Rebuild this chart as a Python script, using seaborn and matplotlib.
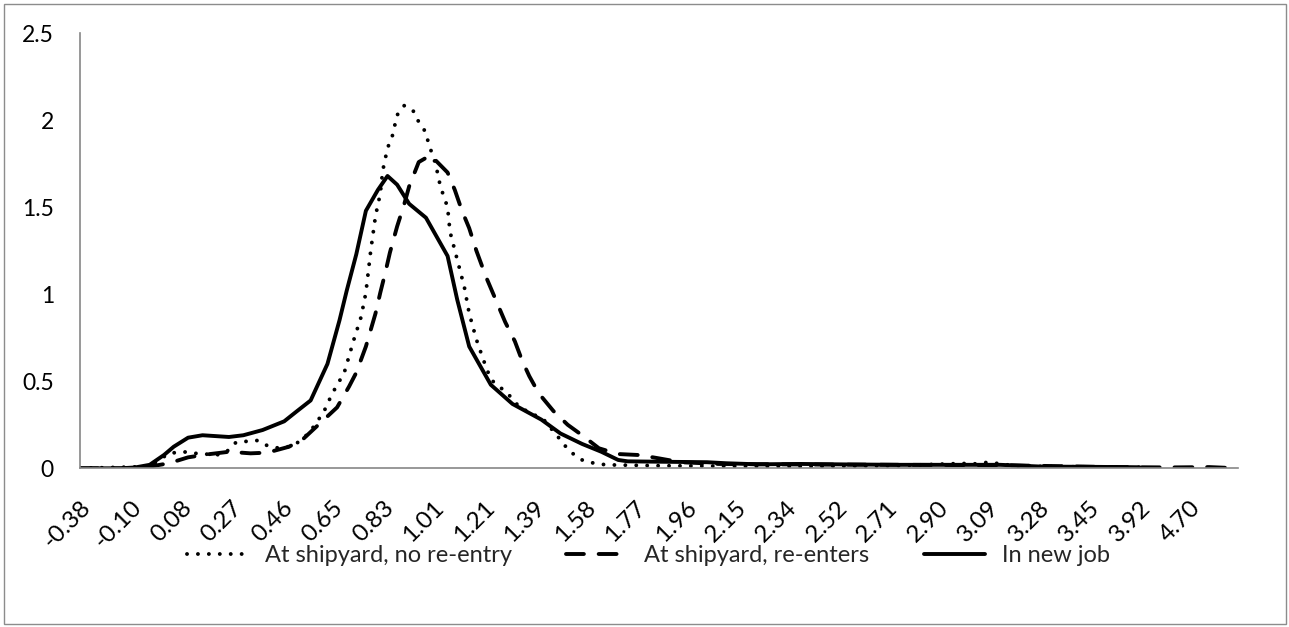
import matplotlib
matplotlib.use("Agg")
import matplotlib.pyplot as plt
import pandas as pd
import seaborn as sns
from matplotlib.patches import Rectangle

# ---------------- data (category axis: index of each category) ----------------
n_categories = 483
label_step = 21
tick_labels = ["-0.38", "-0.10", "0.08", "0.27", "0.46", "0.65", "0.83", "1.01",
               "1.21", "1.39", "1.58", "1.77", "1.96", "2.15", "2.34", "2.52",
               "2.71", "2.90", "3.09", "3.28", "3.45", "3.92", "4.70"]

series_names = ["At shipyard, no re-entry", "At shipyard, re-enters", "In new job"]

noentry_cat = [0, 29, 37, 43, 48, 57, 61, 65, 74, 78, 83, 89, 96, 98, 101, 105, 110,
               114, 117, 119, 121, 123, 125, 126, 128, 130, 132, 135, 139, 141, 144,
               145, 148, 150, 153, 154, 157, 160, 162, 165, 168, 171, 178, 183, 193,
               199, 202, 205, 209, 214, 219, 240, 270, 300, 340, 367, 372, 377, 382,
               390, 420, 441]
noentry_val = [0.0, 0.01, 0.086, 0.095, 0.086, 0.077, 0.095, 0.15, 0.16, 0.13, 0.115,
               0.13, 0.21, 0.26, 0.31, 0.43, 0.55, 0.74, 0.87, 1.01, 1.25, 1.45, 1.58,
               1.71, 1.84, 1.91, 2.03, 2.085, 2.05, 1.99, 1.93, 1.87, 1.75, 1.62, 1.50,
               1.36, 1.20, 1.04, 0.89, 0.74, 0.62, 0.51, 0.43, 0.35, 0.28, 0.18, 0.128,
               0.086, 0.048, 0.029, 0.02, 0.015, 0.012, 0.01, 0.015, 0.028, 0.025,
               0.033, 0.028, 0.012, 0.008, 0.005]

reenter_cat = [0, 25, 37, 45, 53, 62, 71, 78, 87, 93, 100, 107, 112, 115, 119, 123,
               125, 127, 129, 132, 135, 137, 141, 146, 148, 153, 156, 159, 162, 165,
               169, 173, 177, 181, 184, 187, 191, 197, 203, 209, 216, 224, 233, 241,
               250, 266, 300, 341, 383, 425, 441, 454, 470, 482]
reenter_val = [0.0, 0.0, 0.029, 0.063, 0.08, 0.095, 0.086, 0.09, 0.124, 0.17, 0.26,
               0.35, 0.47, 0.55, 0.70, 0.89, 1.01, 1.12, 1.24, 1.39, 1.52, 1.62, 1.76,
               1.80, 1.77, 1.70, 1.60, 1.48, 1.38, 1.25, 1.10, 0.97, 0.84, 0.73, 0.62,
               0.53, 0.43, 0.33, 0.25, 0.19, 0.115, 0.082, 0.076, 0.057, 0.035, 0.025,
               0.022, 0.02, 0.018, 0.008, 0.006, 0.005, 0.007, 0.0]

newjob_cat = [0, 17, 23, 29, 35, 39, 45, 51, 62, 68, 76, 85, 90, 96, 103, 108, 111,
              115, 119, 124, 128, 132, 137, 144, 153, 157, 162, 171, 180, 192, 200,
              209, 217, 224, 228, 240, 261, 269, 282, 300, 321, 341, 383, 400, 425, 441]
newjob_val = [0.0, 0.0, 0.005, 0.02, 0.077, 0.124, 0.176, 0.19, 0.18, 0.19, 0.22, 0.27,
              0.325, 0.39, 0.60, 0.85, 1.02, 1.23, 1.48, 1.60, 1.68, 1.63, 1.52, 1.44,
              1.22, 0.97, 0.70, 0.48, 0.37, 0.28, 0.20, 0.14, 0.095, 0.048, 0.04, 0.038,
              0.035, 0.029, 0.023, 0.025, 0.022, 0.02, 0.02, 0.01, 0.008, 0.006]

y_ticks = [0, 0.5, 1, 1.5, 2, 2.5]
y_tick_labels = ["0", "0.5", "1", "1.5", "2", "2.5"]

# ---------------- figure ----------------
sns.set_style("white")
plt.rcParams["font.family"] = ["Lato", "DejaVu Sans"]

W, H = 1289, 627
fig = plt.figure(figsize=(W / 100, H / 100), dpi=100)
ax = fig.add_axes([80 / W, 1 - 468.3 / H, (1238 - 80) / W, (468.3 - 33.3) / H])

lw = 2.8
gray = "#868686"

sns.lineplot(x=noentry_cat, y=noentry_val, ax=ax, color="black", linewidth=lw,
             linestyle=(0, (0.01, 2.8)), dash_capstyle="round",
             label=series_names[0], sort=False)
sns.lineplot(x=reenter_cat, y=reenter_val, ax=ax, color="black", linewidth=lw,
             linestyle=(0, (4.6, 3.8)), dash_capstyle="round",
             label=series_names[1], sort=False)
sns.lineplot(x=newjob_cat, y=newjob_val, ax=ax, color="black", linewidth=lw,
             linestyle="-", solid_capstyle="round", solid_joinstyle="round",
             label=series_names[2], sort=False)

ax.set_xlim(0, n_categories - 1)
ax.set_ylim(0, 2.5)
ax.set_xlabel("")
ax.set_ylabel("")

ax.set_yticks(y_ticks)
ax.set_yticklabels(y_tick_labels, fontsize=16.5)
tick_pos = [i * label_step for i in range(len(tick_labels))]
ax.set_xticks(tick_pos)
ax.set_xticklabels(tick_labels, fontsize=17.5, rotation=45, ha="right", va="top",
                   rotation_mode="anchor")

for s in ["top", "right"]:
    ax.spines[s].set_visible(False)
for s in ["left", "bottom"]:
    ax.spines[s].set_color(gray)
    ax.spines[s].set_linewidth(1.2)

ax.tick_params(axis="y", direction="out", length=5.8, width=1.2, color=gray,
               pad=13, labelcolor="black")
ax.tick_params(axis="x", direction="out", length=5.0, width=1.2, color=gray,
               pad=15.5, labelcolor="black")
ax.grid(False)

handles, labels = ax.get_legend_handles_labels()
ax.legend(handles, labels, loc="center", bbox_to_anchor=(0.503, 1 - 556 / H),
          bbox_transform=fig.transFigure, ncol=3, frameon=False, fontsize=17,
          handlelength=2.6, handletextpad=0.7, columnspacing=2.3)

fig.patches.append(Rectangle((3.5 / W, 3.5 / H), (W - 7) / W, (H - 7) / H,
                             transform=fig.transFigure, fill=False,
                             edgecolor="#8c8c8c", linewidth=1.0))

fig.savefig("out.png", dpi=100, facecolor="white")
